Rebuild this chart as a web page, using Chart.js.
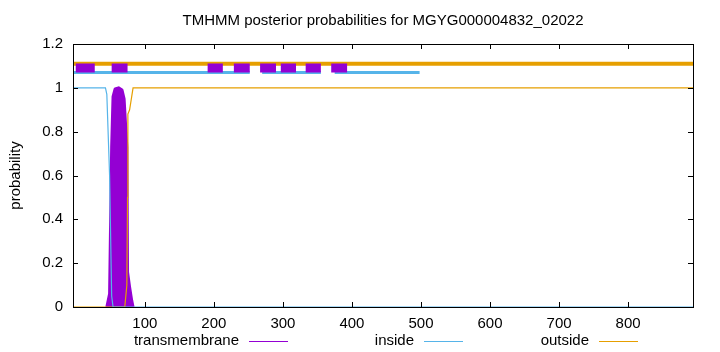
<!DOCTYPE html>
<html>
<head>
<meta charset="UTF-8">
<script src="https://cdn.jsdelivr.net/npm/chart.js@4.4.0/dist/chart.umd.min.js"></script>
<style>
  body { margin: 0; background: #fff; }
  #wrap { width: 720px; height: 352px; }
</style>
</head>
<body>
<div id="wrap"><canvas id="c"></canvas></div>
<script>
const TITLE = 'TMHMM posterior probabilities for MGYG000004832_02022'
const Y_LABEL = 'probability'
const X_MIN = -4, X_MAX = 894
const XTICKS = [100, 200, 300, 400, 500, 600, 700, 800]
const YTICKS = [0, 0.2, 0.4, 0.6, 0.8, 1, 1.2]

// posterior curves (breakpoints)
const tmPos   = [45, 49, 52, 54, 57, 62, 67, 70, 74, 75, 78, 81, 83]
const tmProb  = [0, 0.06, 0.73, 0.96, 0.995, 1, 0.99, 0.95, 0.73, 0.16, 0.09, 0.03, 0]
const inPos   = [-4, 43, 45, 49, 52, 54, 894]
const inProb  = [1, 1, 0.97, 0.6, 0.05, 0, 0]
const outPos  = [-4, 71, 74, 75, 75.5, 78, 83, 894]
const outProb = [0, 0, 0.1, 0.5, 0.88, 0.9, 1, 1]

// topology bars above the curves
const outsideSpans = [[-4, 894]]
const insideSpans  = [[-4, 252], [270, 355], [375, 498]]
const helixSpans   = [[0, 27.5], [52, 75], [191, 213], [229, 252], [267, 290], [297, 319], [333, 355], [370, 393]]
const OUT_Y = 1.11, HELIX_Y = 1.09, IN_Y = 1.07

const PURPLE = '#9400d3', BLUE = '#56b4e9', ORANGE = '#e69f00'
const FONT = 'Liberation Sans'

const pts = (xs, ys) => xs.map((x, i) => ({ x: x, y: ys[i] }))
const spanPts = (spans, y) => {
  const out = []
  spans.forEach((s, i) => {
    out.push({ x: s[0], y: y }, { x: s[1], y: y })
    if (i < spans.length - 1) out.push({ x: (s[1] + spans[i + 1][0]) / 2, y: null })
  })
  return out
}

const line = (data, color, width, extra) => Object.assign({
  data: data, borderColor: color, backgroundColor: color, borderWidth: width,
  showLine: true, pointRadius: 0, spanGaps: false, borderCapStyle: 'butt', tension: 0
}, extra || {})

// gnuplot-ish frame, title, axis label and key
const decor = {
  id: 'decor',
  afterDraw(chart) {
    const { ctx, chartArea: a, scales } = chart
    ctx.save()
    ctx.strokeStyle = '#000'
    ctx.lineWidth = 1
    ctx.beginPath()
    XTICKS.forEach(v => {
      const px = Math.round(scales.x.getPixelForValue(v)) + 0.5
      ctx.moveTo(px, a.bottom); ctx.lineTo(px, a.bottom - 5)
      ctx.moveTo(px, a.top); ctx.lineTo(px, a.top + 5)
    })
    YTICKS.forEach(v => {
      const py = Math.round(scales.y.getPixelForValue(v)) + 0.5
      ctx.moveTo(a.left, py); ctx.lineTo(a.left + 5, py)
      ctx.moveTo(a.right, py); ctx.lineTo(a.right - 5, py)
    })
    ctx.stroke()
    ctx.strokeRect(Math.round(a.left) + 0.5, Math.round(a.top) + 0.5,
      Math.round(a.right - a.left), Math.round(a.bottom - a.top))

    ctx.fillStyle = '#000'
    ctx.font = '15px "' + FONT + '"'
    ctx.textAlign = 'center'
    ctx.textBaseline = 'middle'
    ctx.fillText(TITLE, (a.left + a.right) / 2, 21)

    ctx.save()
    ctx.translate(16, (a.top + a.bottom) / 2)
    ctx.rotate(-Math.PI / 2)
    ctx.fillText(Y_LABEL, 0, 0)
    ctx.restore()

    const key = [
      ['transmembrane', PURPLE, 249],
      ['inside', BLUE, 424],
      ['outside', ORANGE, 599]
    ]
    ctx.textAlign = 'right'
    key.forEach(k => {
      ctx.fillStyle = '#000'
      ctx.fillText(k[0], k[2] - 10, 341)
      ctx.strokeStyle = k[1]
      ctx.beginPath()
      ctx.moveTo(k[2], 341.5); ctx.lineTo(k[2] + 39, 341.5)
      ctx.stroke()
    })
    ctx.restore()
  }
}

new Chart(document.getElementById('c'), {
  type: 'scatter',
  data: {
    datasets: [
      line(spanPts(helixSpans, HELIX_Y), PURPLE, 9),
      line(spanPts(insideSpans, IN_Y), BLUE, 3),
      line(spanPts(outsideSpans, OUT_Y), ORANGE, 4),
      line(pts(inPos, inProb), BLUE, 1.2),
      line(pts(outPos, outProb), ORANGE, 1.2),
      line(pts(tmPos, tmProb), PURPLE, 3, { fill: 'origin', borderJoinStyle: 'round' })
    ]
  },
  options: {
    responsive: true,
    maintainAspectRatio: false,
    animation: false,
    layout: { padding: { top: 44, right: 27, left: 0, bottom: 0 } },
    plugins: { legend: { display: false }, title: { display: false }, tooltip: { enabled: false } },
    scales: {
      x: {
        type: 'linear', min: X_MIN, max: X_MAX,
        afterBuildTicks: s => { s.ticks = XTICKS.map(v => ({ value: v })) },
        afterFit: s => { s.height = 45 },
        grid: { display: false, drawTicks: false },
        border: { display: false },
        ticks: { color: '#000', font: { family: FONT, size: 15 }, padding: 8, maxRotation: 0 }
      },
      y: {
        min: 0, max: 1.2,
        afterBuildTicks: s => { s.ticks = YTICKS.map(v => ({ value: v })) },
        afterFit: s => { s.width = 73 },
        grid: { display: false, drawTicks: false },
        border: { display: false },
        ticks: { color: '#000', font: { family: FONT, size: 15 }, padding: 10, callback: v => String(v) }
      }
    }
  },
  plugins: [decor]
})
</script>
</body>
</html>
